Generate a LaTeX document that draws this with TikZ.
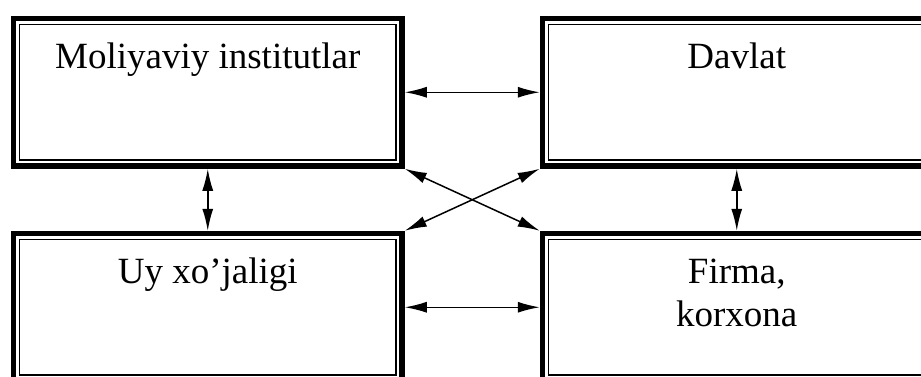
\documentclass[tikz,border=0pt]{standalone}
\usepackage{fontspec}
\setmainfont{Liberation Serif}
\usetikzlibrary{arrows.meta}
\begin{document}
\begin{tikzpicture}[x=1pt,y=1pt,
  box/.style={draw=black, line width=5.5pt, minimum width=388.5pt, minimum height=147.5pt,
    inner sep=0pt, outer sep=2.75pt, anchor=north west,
    path picture={\draw[line width=1.1pt]
      ([shift={(6pt,-6pt)}]path picture bounding box.north west) rectangle
      ([shift={(-6pt,6pt)}]path picture bounding box.south east);}},
  txt/.style={font=\fontsize{37}{43}\selectfont, align=center, anchor=base, inner sep=0pt},
  arr/.style={line width=1.5pt, {Latex[length=22pt,width=11pt]}-{Latex[length=22pt,width=11pt]}}]
\useasboundingbox (0,0) rectangle (921,-376);
\begin{scope}
\clip (0,0) rectangle (921,-376);
\node[box] (b1) at (10.75,-15.75) {};
\node[box] (b2) at (539.75,-15.75) {};
\node[box] (b3) at (10.75,-230.75) {};
\node[box] (b4) at (539.75,-230.75) {};
\node[txt] (t1) at ([yshift=-53pt]b1.north) {Moliyaviy institutlar};
\node[txt] (t2) at ([yshift=-53pt]b2.north) {Davlat};
\node[txt] (t3) at ([yshift=-53pt]b3.north) {Uy xo’jaligi};
\node[txt] (t4) at ([yshift=-96pt]b4.north) {Firma,\\korxona};
\draw[arr] (b1.east) -- (b2.west);
\draw[arr] (b3.east) -- (b4.west);
\draw[arr] (b1.south) -- (b3.north);
\draw[arr] (b2.south) -- (b4.north);
\draw[arr] (b1.south east) -- (b4.north west);
\draw[arr] (b2.south west) -- (b3.north east);
\end{scope}
\end{tikzpicture}
\end{document}
